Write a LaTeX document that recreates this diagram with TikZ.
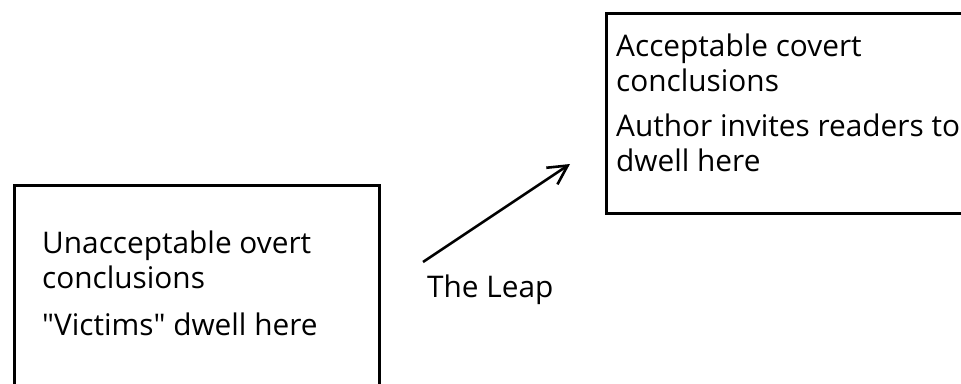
\documentclass[tikz,border=0pt]{standalone}
\usepackage{fontspec}
\setmainfont{Open Sans}
\usetikzlibrary{arrows.meta,positioning}
\tikzset{
  box/.style={draw,line width=2.5pt,inner sep=0pt,anchor=north west},
  txt/.style={inner sep=0pt,align=left,font=\fontsize{29.8}{34.5}\selectfont},
  leap/.style={line width=2.6pt,-{Straight Barb[length=19pt,width=20pt]}},
}

\begin{document}
\begin{tikzpicture}[x=1pt,y=-1pt]
    \useasboundingbox (0,0) rectangle (961,383);
    \clip (0,0) rectangle (961,383);
    % the two boxes, both running off the page
    \node[box,minimum width=365pt,minimum height=230pt] (overt) at (13,184) {};
    \node[box,minimum width=400pt,minimum height=200pt] (covert) at (605,12) {};
    % box texts
    \node[txt,below right=47pt and 29pt of overt.north west] (overttxt)
      {Unacceptable overt\\ conclusions\\[13pt] \textquotedbl Victims\textquotedbl\ dwell here};
    \node[txt,below right=22pt and 11pt of covert.north west] (coverttxt)
      {Acceptable covert\\ conclusions\\[11pt] Author invites readers to\\ dwell here};
    % the leap
    \coordinate (leapstart) at (423,262);
    \coordinate (leapend) at (570,164);
    \draw[leap] (leapstart) -- (leapend);
    \node[txt,below right=13pt and 4pt of leapstart] (leaptxt) {The Leap};
\end{tikzpicture}
\end{document}
